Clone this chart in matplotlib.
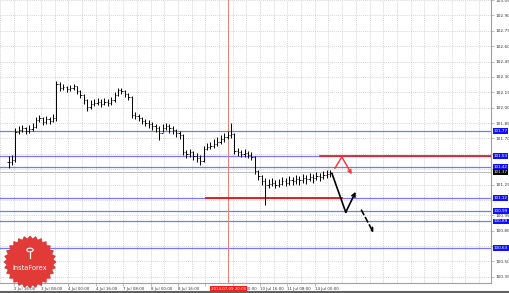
import numpy as np
import matplotlib
matplotlib.use('Agg')
import matplotlib.pyplot as plt
from matplotlib.patches import Polygon, Circle
from matplotlib.lines import Line2D
from matplotlib.transforms import blended_transform_factory

plt.rcParams['font.family'] = 'DejaVu Sans'

# ---- price bars (2-hour bars, x = trading hours since 2 Jul 16:00) ----
bar_hours = np.arange(95) * 2 - 3
closes = [101.47, 101.49, 101.76, 101.78, 101.80, 101.77, 101.79, 101.81, 101.88, 101.90,
          101.86, 101.89, 101.87, 101.90, 102.23, 102.19, 102.20, 102.18, 102.19, 102.21,
          102.16, 102.12, 102.07, 102.01, 102.04, 102.05, 102.06, 102.04, 102.06, 102.05,
          102.07, 102.12, 102.17, 102.16, 102.13, 102.10, 101.93, 101.92, 101.90, 101.87,
          101.85, 101.84, 101.82, 101.80, 101.75, 101.80, 101.82, 101.80, 101.78, 101.75,
          101.73, 101.57, 101.55, 101.57, 101.53, 101.51, 101.48, 101.60, 101.62, 101.63,
          101.65, 101.67, 101.69, 101.71, 101.73, 101.74, 101.58, 101.57, 101.55, 101.56,
          101.54, 101.52, 101.38, 101.33, 101.28, 101.25, 101.26, 101.27, 101.25, 101.26,
          101.28, 101.27, 101.29, 101.28, 101.30, 101.29, 101.31, 101.30, 101.32, 101.31,
          101.33, 101.32, 101.34, 101.35, 101.36]
highs = [101.53, 101.54, 101.80, 101.82, 101.83, 101.81, 101.83, 101.85, 101.91, 101.93,
         101.91, 101.92, 101.91, 101.94, 102.26, 102.25, 102.23, 102.21, 102.22, 102.23,
         102.21, 102.17, 102.13, 102.08, 102.07, 102.08, 102.09, 102.08, 102.09, 102.08,
         102.10, 102.15, 102.19, 102.19, 102.17, 102.14, 102.11, 101.96, 101.94, 101.91,
         101.89, 101.88, 101.86, 101.84, 101.82, 101.84, 101.85, 101.84, 101.82, 101.79,
         101.77, 101.74, 101.59, 101.60, 101.58, 101.56, 101.54, 101.63, 101.66, 101.67,
         101.69, 101.71, 101.73, 101.75, 101.77, 101.85, 101.75, 101.61, 101.59, 101.60,
         101.58, 101.57, 101.53, 101.39, 101.34, 101.31, 101.30, 101.31, 101.29, 101.30,
         101.32, 101.31, 101.33, 101.32, 101.34, 101.33, 101.35, 101.34, 101.36, 101.35,
         101.37, 101.36, 101.38, 101.39, 101.39]
lows = [101.41, 101.44, 101.47, 101.74, 101.76, 101.74, 101.75, 101.77, 101.80, 101.86,
        101.83, 101.84, 101.84, 101.86, 101.87, 102.16, 102.17, 102.15, 102.16, 102.17,
        102.13, 102.09, 102.04, 101.97, 101.99, 102.02, 102.03, 102.01, 102.03, 102.02,
        102.03, 102.06, 102.11, 102.13, 102.10, 102.07, 101.90, 101.89, 101.87, 101.84,
        101.82, 101.80, 101.78, 101.76, 101.68, 101.76, 101.78, 101.75, 101.74, 101.71,
        101.69, 101.54, 101.51, 101.52, 101.49, 101.47, 101.44, 101.47, 101.59, 101.60,
        101.61, 101.63, 101.65, 101.67, 101.69, 101.70, 101.55, 101.53, 101.52, 101.52,
        101.51, 101.49, 101.35, 101.29, 101.25, 101.05, 101.22, 101.24, 101.22, 101.23,
        101.25, 101.24, 101.25, 101.25, 101.26, 101.25, 101.27, 101.26, 101.28, 101.27,
        101.29, 101.28, 101.30, 101.31, 101.32]

# ---- axis labels ----
x_labels = ['2 Jul 16:00', '3 Jul 08:00', '4 Jul 00:00', '4 Jul 16:00', '7 Jul 08:00',
            '8 Jul 00:00', '8 Jul 16:00', '', '10 Jul 00:00', '10 Jul 16:00',
            '11 Jul 08:00', '14 Jul 00:00']
x_label_hours = np.arange(len(x_labels)) * 16
y_ticks = np.round(np.arange(100.35, 103.06, 0.15), 2)

# ---- levels ----
blue_levels = [101.77, 101.53, 101.42, 101.12, 100.99, 100.89, 100.63]
last_price = 101.37
red_upper = 101.53
red_upper_from = 179.0
red_lower = 101.12
red_lower_span = (112.7, 191.8)
cross_hour = 125.4
cross_label = '2014.07.09 20:00'

# ---- forecast arrows ----
red_path_h = [187.8, 191.8, 197.6]
red_path_p = [101.41, 101.52, 101.35]
black_path_h = [186.0, 194.1, 199.9]
black_path_p = [101.36, 100.98, 101.18]
dash_path_h = [203.3, 210.3]
dash_path_p = [101.00, 100.78]

W, H = 510, 293
fig = plt.figure(figsize=(W / 100, H / 100), dpi=100)
ax = fig.add_axes([0, 1 - 283 / H, 491 / W, 283 / H])
ax.set_xlim(-4.62, 279.0)
ax.set_ylim(100.29, 103.046)

# grid
ax.set_yticks(y_ticks)
ax.set_xticks(x_label_hours)
ax.set_xticks(np.arange(-8, 280, 8), minor=True)
ax.grid(True, which='both', axis='x', color='#c8c8c8', ls=(0, (1.5, 1.5)), lw=0.5)
ax.grid(True, which='major', axis='y', color='#c8c8c8', ls=(0, (1.5, 1.5)), lw=0.5)
ax.set_axisbelow(True)

# levels
for lv in blue_levels:
    ax.axhline(lv, color='#7878ff', lw=0.9, zorder=2)
ax.axhline(last_price, color='#c0c0c0', lw=0.8, zorder=2)
ax.plot([red_upper_from, 279.0], [red_upper, red_upper], color='#e01818', lw=1.2, zorder=3)
ax.plot(red_lower_span, [red_lower, red_lower], color='#e01818', lw=1.3, zorder=3)
ax.axvline(cross_hour, color='#e87a7a', lw=0.7, zorder=2)

# OHLC bars
opens = np.r_[closes[0], closes[:-1]]
bh = np.array(bar_hours)
ax.vlines(bh, lows, highs, color='black', lw=0.7, zorder=4)
ax.hlines(opens, bh - 0.7, bh, color='black', lw=0.6, zorder=4)
ax.hlines(closes, bh, bh + 0.7, color='black', lw=0.6, zorder=4)

# forecast arrows
ax.plot(red_path_h[:2], red_path_p[:2], color='#ff3030', lw=1.0, zorder=5)
ax.annotate('', xy=(red_path_h[2], red_path_p[2]), xytext=(red_path_h[1], red_path_p[1]),
            arrowprops=dict(arrowstyle='->', color='#ff3030', lw=1.0,
                            mutation_scale=6, shrinkA=0, shrinkB=0), zorder=5)
ax.plot(black_path_h[:2], black_path_p[:2], color='black', lw=1.2, zorder=5)
ax.annotate('', xy=(black_path_h[2], black_path_p[2]), xytext=(black_path_h[1], black_path_p[1]),
            arrowprops=dict(arrowstyle='->', color='black', lw=1.2,
                            mutation_scale=6, shrinkA=0, shrinkB=0), zorder=5)
ax.annotate('', xy=(dash_path_h[1], dash_path_p[1]), xytext=(dash_path_h[0], dash_path_p[0]),
            arrowprops=dict(arrowstyle='->', color='black', lw=1.2, ls=(0, (3, 2)),
                            mutation_scale=6, shrinkA=0, shrinkB=0), zorder=5)

# axes cosmetics
for s in ['top', 'left']:
    ax.spines[s].set_visible(False)
for s in ['right', 'bottom']:
    ax.spines[s].set_color('#a0a0a0')
    ax.spines[s].set_linewidth(0.8)
ax.yaxis.tick_right()
ax.tick_params(axis='y', which='major', labelsize=3.1, colors='#a0a0a0', labelcolor='#333333',
               length=2, width=0.5, pad=1)
ax.tick_params(axis='x', which='major', labelsize=2.9, colors='#a0a0a0', labelcolor='#333333',
               length=2, width=0.5, pad=0.8)
ax.tick_params(axis='x', which='minor', length=0)
# tick labels that sit under a price box are covered in the original
boxed = blue_levels + [last_price]
ax.set_yticklabels(['' if min(abs(v - b) for b in boxed) < 0.035 else f'{v:.2f}'
                    for v in y_ticks])
ax.set_xticklabels(x_labels)
for lab in ax.get_xticklabels():
    lab.set_ha('left')

# price boxes on right axis
tr = blended_transform_factory(ax.transAxes, ax.transData)
for lv in blue_levels:
    ax.text(1.005, lv, f'{lv:.2f}', transform=tr, fontsize=3.0, color='white', va='center',
            ha='left', clip_on=False, zorder=10,
            bbox=dict(boxstyle='square,pad=0.22', fc='#1010ff', ec='none'))
ax.text(1.005, last_price, f'{last_price:.2f}', transform=tr, fontsize=3.0, color='white',
        va='center', ha='left', clip_on=False, zorder=10,
        bbox=dict(boxstyle='square,pad=0.22', fc='black', ec='none'))

# crosshair label on x axis
trx = blended_transform_factory(ax.transData, ax.transAxes)
ax.text(cross_hour, -0.022, cross_label, transform=trx, fontsize=2.9, color='white',
        ha='center', va='center', clip_on=False, zorder=10,
        bbox=dict(boxstyle='square,pad=0.25', fc='#ff1a1a', ec='none'))

# bottom border
fig.add_artist(Line2D([0, 1], [1.2 / H, 1.2 / H], transform=fig.transFigure,
                      color='#606060', lw=1.5))

# InstaForex badge
cx, cy, r_out, r_in, n = 30, 262, 26, 23, 28
ang = np.linspace(0, 2 * np.pi, 2 * n, endpoint=False)
rr = np.where(np.arange(2 * n) % 2 == 0, r_out, r_in)
pts = np.column_stack([(cx + rr * np.cos(ang)) / W, 1 - (cy + rr * np.sin(ang)) / H])
fig.add_artist(Polygon(pts, closed=True, transform=fig.transFigure, fc='#e23b37',
                       ec='#d23030', lw=0.5, zorder=20))
fig.text(cx / W, 1 - 268 / H, 'InstaForex', color='white', fontsize=4.8, ha='center',
         va='center', zorder=21)
fig.add_artist(Circle((cx / W, 1 - 250 / H), 3.2 / W, transform=fig.transFigure,
                      fc='none', ec='white', lw=0.8, zorder=21))
fig.add_artist(Line2D([cx / W, cx / W], [1 - 251 / H, 1 - 258 / H], transform=fig.transFigure,
                      color='white', lw=0.9, zorder=21))

fig.savefig('out.png', dpi=100)
